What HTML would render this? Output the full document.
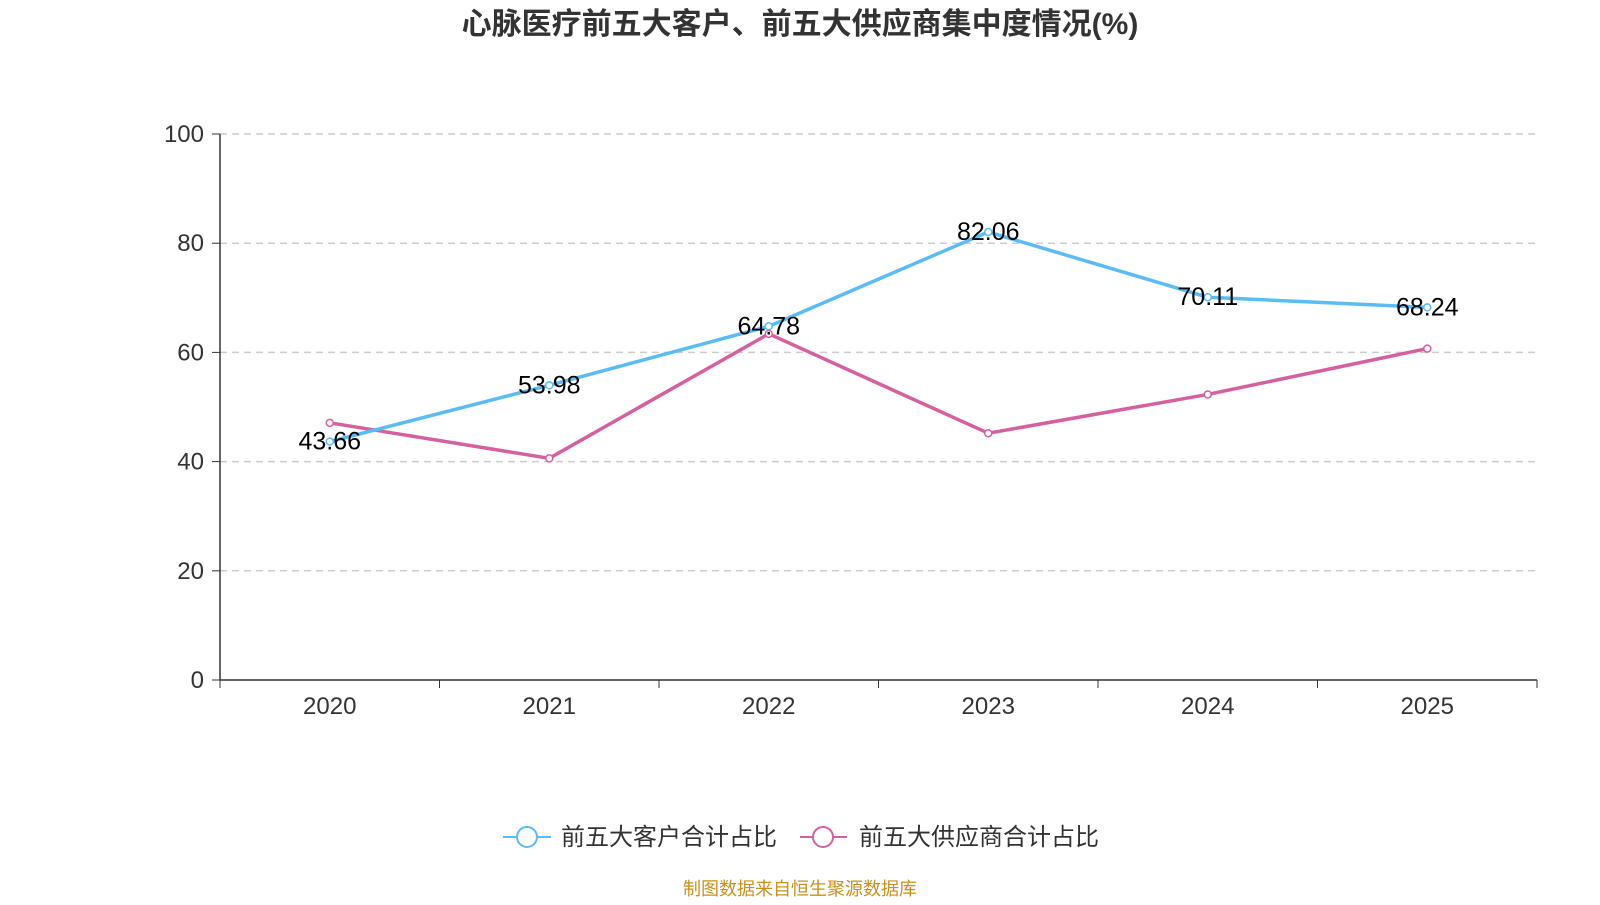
<!DOCTYPE html>
<html><head><meta charset="utf-8">
<style>
body{margin:0;width:1600px;height:900px;background:#fff;overflow:hidden;font-family:"Liberation Sans","Noto Sans CJK SC",sans-serif;}
</style></head>
<body>
<svg id="chart" width="1600" height="900" xmlns="http://www.w3.org/2000/svg">
<text x="800" y="34" text-anchor="middle" font-size="30" font-weight="bold" fill="#333" font-family="Liberation Sans,Noto Sans CJK SC,sans-serif">心脉医疗前五大客户、前五大供应商集中度情况(%)</text>
<g id="grid"></g>
<g id="axes"></g>
<g id="series"></g>
<g>
<g>
<line x1="503" y1="837" x2="551" y2="837" stroke="#5bbcf3" stroke-width="2"/>
<circle cx="527" cy="837" r="10" fill="#fff" stroke="#5bbcf3" stroke-width="2"/>
<text x="561" y="845" font-size="24" fill="#333">前五大客户合计占比</text>
</g>
<g>
<line x1="800" y1="837" x2="847" y2="837" stroke="#d5609f" stroke-width="2"/>
<circle cx="823" cy="837" r="10" fill="#fff" stroke="#d5609f" stroke-width="2"/>
<text x="859" y="845" font-size="24" fill="#333">前五大供应商合计占比</text>
</g>
</g>
<text x="800" y="895" text-anchor="middle" font-size="18" fill="#c8901e">制图数据来自恒生聚源数据库</text>
</svg>
<script>
const categories=["2020","2021","2022","2023","2024","2025"];
const customers=[43.66,53.98,64.78,82.06,70.11,68.24];
const suppliers=[47.1,40.6,63.4,45.2,52.3,60.7];
const yTicks=[0,20,40,60,80,100];
const NS="http://www.w3.org/2000/svg";
const x0=220,x1=1537,yTop=134,yBot=680;
const bw=(x1-x0)/categories.length;
function xs(i){return x0+bw*(i+0.5);}
function ys(v){return yBot-(v/100)*(yBot-yTop);}
function mk(t,a,p){const e=document.createElementNS(NS,t);for(const k in a)e.setAttribute(k,a[k]);p.appendChild(e);return e;}
const grid=document.getElementById('grid'),axes=document.getElementById('axes'),ser=document.getElementById('series');
yTicks.forEach(v=>{
 if(v>0){const g=mk('line',{x1:x0,x2:x1,y1:ys(v),y2:ys(v),stroke:'#ccc','stroke-width':1.5,'stroke-dasharray':'7,5'},grid);
 
 }
 mk('line',{x1:x0-8,x2:x0,y1:ys(v),y2:ys(v),stroke:'#333'},axes);
 const t=mk('text',{x:x0-16,y:ys(v)+8,'text-anchor':'end','font-size':24,fill:'#333'},axes);t.textContent=v;
 
 
});
mk('line',{x1:x0,x2:x0,y1:yTop,y2:yBot,stroke:'#333','stroke-width':1.5},axes);
mk('line',{x1:x0,x2:x1,y1:yBot,y2:yBot,stroke:'#333','stroke-width':1.5},axes);
for(let i=0;i<=categories.length;i++)mk('line',{x1:x0+bw*i,x2:x0+bw*i,y1:yBot,y2:yBot+8,stroke:'#333'},axes);
categories.forEach((c,i)=>{const t=mk('text',{x:xs(i),y:yBot+34,'text-anchor':'middle','font-size':24,fill:'#333'},axes);t.textContent=c;
 
 });
function draw(vals,color,name,labels){
 const p=mk('polyline',{points:vals.map((v,i)=>xs(i)+','+ys(v)).join(' '),fill:'none',stroke:color,'stroke-width':3.5},ser);
 
 
 vals.forEach((v,i)=>{const c=mk('circle',{cx:xs(i),cy:ys(v),r:3.5,fill:'#fff',stroke:color,'stroke-width':1.5},ser);
 
 
 if(labels){const t=mk('text',{x:xs(i),y:ys(v)+8,'text-anchor':'middle','font-size':25,fill:'#000'},ser);t.textContent=v.toFixed(2);
 
 }});
}
draw(suppliers,'#d5609f','suppliers',false);
draw(customers,'#5bbcf3','customers',true);
</script>
</body></html>
